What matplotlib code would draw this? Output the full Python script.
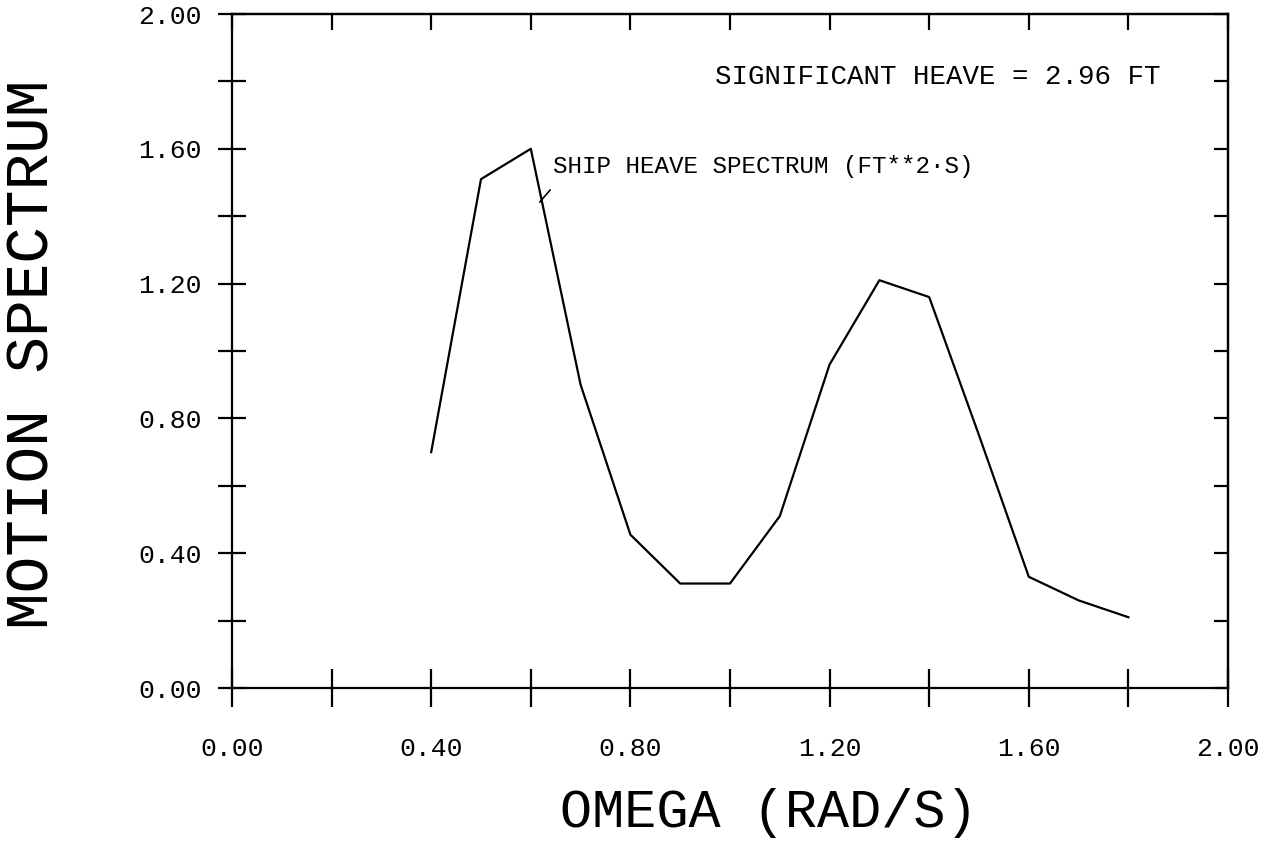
import matplotlib
matplotlib.use("Agg")
import matplotlib.pyplot as plt
import numpy as np

omega = [0.4, 0.5, 0.6, 0.7, 0.8, 0.9, 1.0, 1.1, 1.2, 1.3, 1.4, 1.5, 1.6, 1.7, 1.8]
heave = [0.70, 1.51, 1.60, 0.90, 0.455, 0.31, 0.31, 0.51, 0.96, 1.21, 1.16, 0.75, 0.33, 0.26, 0.21]
major_ticks = [0.0, 0.4, 0.8, 1.2, 1.6, 2.0]
major_labels = ["0.00", "0.40", "0.80", "1.20", "1.60", "2.00"]
all_ticks = [0.0, 0.2, 0.4, 0.6, 0.8, 1.0, 1.2, 1.4, 1.6, 1.8, 2.0]

plt.rcParams['font.family'] = ["Liberation Mono", "DejaVu Sans Mono"]

fig = plt.figure(figsize=(12.65, 8.5), dpi=100)
ax = fig.add_axes([232/1265, 1 - 688/850, (1228-232)/1265, (688-14)/850])

ax.plot(omega, heave, color="black", lw=1.6)
ax.set_xlim(0, 2)
ax.set_ylim(0, 2)

for s in ax.spines.values():
    s.set_linewidth(1.6)

def lab(t):
    return major_labels[major_ticks.index(t)] if t in major_ticks else ""

ax.set_xticks(all_ticks)
ax.set_xticklabels([lab(t) for t in all_ticks])
ax.set_yticks(all_ticks)
ax.set_yticklabels([lab(t) for t in all_ticks])
ax.tick_params(axis='x', direction='inout', length=27, width=1.6, labelsize=19, pad=22)
ax.tick_params(axis='y', direction='inout', length=20, width=1.6, labelsize=19, pad=12)

top = ax.secondary_xaxis('top')
top.set_xticks(all_ticks)
top.set_xticklabels([])
top.tick_params(direction='in', length=11.5, width=1.6)
top.spines['top'].set_linewidth(1.6)
right = ax.secondary_yaxis('right')
right.set_yticks(all_ticks)
right.set_yticklabels([])
right.tick_params(direction='in', length=10, width=1.6)
right.spines['right'].set_linewidth(1.6)

ax.set_xlabel("OMEGA (RAD/S)", fontsize=38.5)
ax.xaxis.set_label_coords(0.539, -0.149)
ax.set_ylabel("MOTION SPECTRUM", fontsize=44)
ax.yaxis.set_label_coords(-0.171, 0.495)

ax.annotate("", xy=(0.618, 1.442), xytext=(0.639, 1.478),
            arrowprops=dict(arrowstyle='-', color='black', lw=1.2, shrinkA=0, shrinkB=0))
ax.text(0.645, 1.546, "SHIP HEAVE SPECTRUM (FT**2·S)", fontsize=17.5, va='center', ha='left')
ax.text(0.97, 1.813, "SIGNIFICANT HEAVE = 2.96 FT", fontsize=19.8, va='center', ha='left')

fig.savefig("out.png", dpi=100)
